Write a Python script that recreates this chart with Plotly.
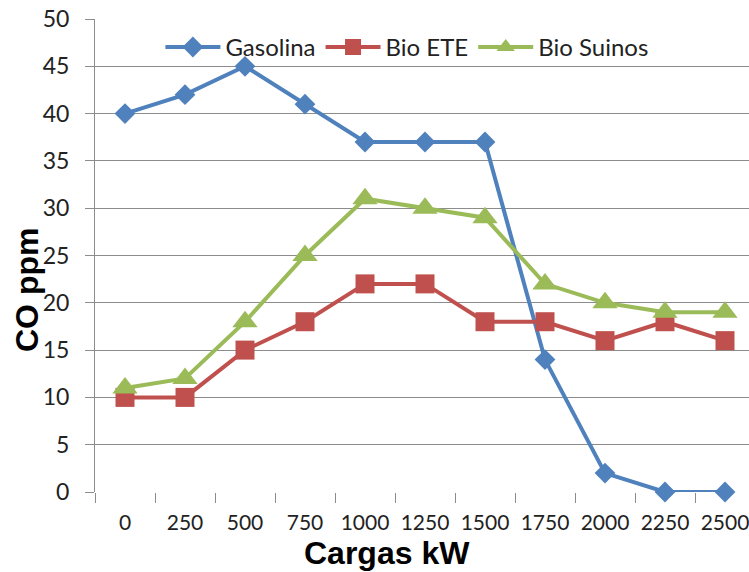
import plotly.graph_objects as go

# Load levels (kW) and CO readings (ppm) for each fuel
cargas = ["0", "250", "500", "750", "1000", "1250", "1500", "1750", "2000", "2250", "2500"]
gasolina = [40, 42, 45, 41, 37, 37, 37, 14, 2, 0, 0]
bio_ete = [10, 10, 15, 18, 22, 22, 18, 18, 16, 18, 16]
bio_suinos = [11, 12, 18, 25, 31, 30, 29, 22, 20, 19, 19]

series = [
    ("Gasolina", gasolina, "#4F81BD", "diamond", 16),
    ("Bio ETE", bio_ete, "#C0504D", "square", 19),
    ("Bio Suinos", bio_suinos, "#9BBB59", "triangle-up", 22),
]

fig = go.Figure()
for name, vals, color, symbol, size in series:
    fig.add_trace(go.Scatter(
        x=cargas, y=vals, name=name, mode="lines+markers",
        line=dict(color=color, width=4),
        marker=dict(symbol=symbol, size=size, color=color, line=dict(width=0)),
        cliponaxis=False,
    ))

grid = "#8C8C8C"
title_font = dict(family="Liberation Sans, Arial, sans-serif", size=32, color="#000000")
fig.update_layout(
    width=749, height=572,
    margin=dict(l=95, r=0, t=19, b=80, autoexpand=False),
    plot_bgcolor="white", paper_bgcolor="white",
    font=dict(family="Lato, Open Sans, sans-serif", size=23, color="#222222"),
    showlegend=True,
    legend=dict(
        orientation="h", x=0.1, xanchor="left", y=0.94, yanchor="middle",
        bgcolor="rgba(0,0,0,0)", font=dict(size=24, color="#222222"),
        itemwidth=55, tracegroupgap=0,
    ),
    xaxis=dict(
        type="category", range=[-0.5, 10.4], automargin=False,
        tickson="boundaries", ticks="outside", ticklen=10, tickcolor=grid,
        ticklabelstandoff=16, tickangle=0,
        showgrid=False, showline=False, zeroline=False,
        tickfont=dict(size=21),
    ),
    yaxis=dict(
        range=[0, 50], dtick=5, ticks="outside", ticklen=9, tickcolor=grid,
        ticklabelstandoff=11, automargin=False,
        showgrid=True, gridcolor=grid, gridwidth=1,
        showline=True, linecolor=grid, linewidth=1, zeroline=False,
        tickfont=dict(size=23),
    ),
    annotations=[
        dict(text="<b>Cargas kW</b>", xref="paper", yref="paper",
             x=(387 - 95) / 654, y=-(553 - 492) / 473, xanchor="center", yanchor="middle",
             showarrow=False, font=title_font),
        dict(text="<b>CO ppm</b>", xref="paper", yref="paper",
             x=-(95 - 27) / 654, y=(492 - 290) / 473, xanchor="center", yanchor="middle",
             textangle=-90, showarrow=False, font=title_font),
    ],
)

fig.write_html("out.html")
